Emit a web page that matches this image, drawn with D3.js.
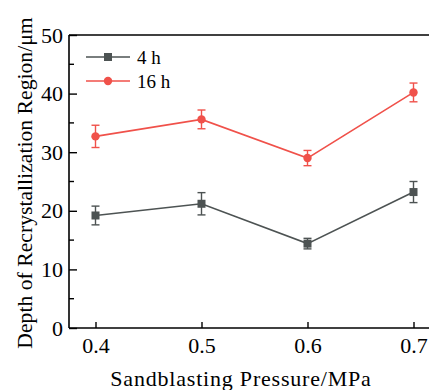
<!DOCTYPE html>
<html>
<head>
<meta charset="utf-8">
<script src="https://cdn.jsdelivr.net/npm/d3@7"></script>
<style>
  body { margin: 0; background: #fff; }
  svg, svg text { display: block; font-family: "Liberation Serif", "Times New Roman", serif !important; }
</style>
</head>
<body>
<div id="chart"></div>
<script>
// data
const pressures = [0.4, 0.5, 0.6, 0.7];
const depth4h = [19.2, 21.2, 14.4, 23.2];
const err4h = [1.6, 1.9, 0.9, 1.8];
const depth16h = [32.7, 35.6, 29.0, 40.2];
const err16h = [1.9, 1.6, 1.3, 1.6];
const xTicks = [0.4, 0.5, 0.6, 0.7];
const yTicks = [0, 10, 20, 30, 40, 50];

const series = [
  { name: "4 h", values: depth4h, errs: err4h, color: "#4d5353", shape: "square" },
  { name: "16 h", values: depth16h, errs: err16h, color: "#f0514a", shape: "circle" }
];

const width = 429, height = 390;

const svg = d3.select("#chart").append("svg")
  .attr("width", width)
  .attr("height", height);

// x axis runs past the right edge (picture is cropped there)
const x = d3.scaleLinear().domain([0.375, 0.725]).range([69, 440]);
const y = d3.scaleLinear().domain([0, 50]).range([328, 35]);

// frame: left, bottom, top
svg.append("line").attr("x1", x(0.375)).attr("x2", x(0.375)).attr("y1", y(0)).attr("y2", y(50))
  .attr("stroke", "#000").attr("stroke-width", 1.6);
svg.append("line").attr("x1", x(0.375)).attr("x2", width).attr("y1", y(0)).attr("y2", y(0))
  .attr("stroke", "#000").attr("stroke-width", 1.6);
svg.append("line").attr("x1", x(0.375)).attr("x2", width).attr("y1", y(50)).attr("y2", y(50))
  .attr("stroke", "#000").attr("stroke-width", 1.6);

// y ticks point inward
const yAxis = d3.axisLeft(y).tickValues(yTicks).tickSize(-8).tickPadding(14).tickFormat(d3.format("d"));
const gy = svg.append("g").attr("transform", "translate(" + x(0.375) + ",0)").call(yAxis)
  .attr("font-size", 22);
gy.select(".domain").remove();
gy.selectAll(".tick line").attr("stroke-width", 1.4);
gy.selectAll("text").attr("fill", "#000").attr("dx", 8);

// minor y ticks
svg.append("g").selectAll("line").data(d3.range(5, 50, 10)).enter().append("line")
  .attr("x1", x(0.375)).attr("x2", x(0.375) + 5)
  .attr("y1", d => y(d)).attr("y2", d => y(d))
  .attr("stroke", "#000").attr("stroke-width", 1.4);

const xAxis = d3.axisBottom(x).tickValues(xTicks).tickSize(-6).tickPadding(12).tickFormat(d3.format(".1f"));
const gx = svg.append("g").attr("transform", "translate(0," + y(0) + ")").call(xAxis)
  .attr("font-size", 22);
gx.select(".domain").remove();
gx.selectAll(".tick line").attr("stroke-width", 1.4);
gx.selectAll("text").attr("fill", "#000").attr("dy", "0.6em");

// axis titles
svg.append("text")
  .attr("x", 241).attr("y", 386)
  .attr("text-anchor", "middle")
  .attr("font-size", 22)
  .attr("letter-spacing", 0.8)
  .text("Sandblasting Pressure/MPa");

svg.append("text")
  .attr("transform", "translate(32,183) rotate(-90)")
  .attr("text-anchor", "middle")
  .attr("font-size", 21.7)
  .text("Depth of Recrystallization Region/\u03bcm");

// series
const line = d3.line().x(d => x(d[0])).y(d => y(d[1]));

series.forEach(s => {
  const pts = pressures.map((p, i) => [p, s.values[i], s.errs[i]]);
  const g = svg.append("g");
  g.append("path").datum(pts).attr("d", line)
    .attr("fill", "none").attr("stroke", s.color).attr("stroke-width", 1.6);

  // error bars
  const eb = g.selectAll(".eb").data(pts).enter().append("g");
  eb.append("line").attr("x1", d => x(d[0])).attr("x2", d => x(d[0]))
    .attr("y1", d => y(d[1] - d[2])).attr("y2", d => y(d[1] + d[2]))
    .attr("stroke", s.color).attr("stroke-width", 1.4);
  [-1, 1].forEach(k => {
    eb.append("line").attr("x1", d => x(d[0]) - 4).attr("x2", d => x(d[0]) + 4)
      .attr("y1", d => y(d[1] + k * d[2])).attr("y2", d => y(d[1] + k * d[2]))
      .attr("stroke", s.color).attr("stroke-width", 1.4);
  });

  // markers
  if (s.shape === "square") {
    g.selectAll(".m").data(pts).enter().append("rect")
      .attr("x", d => x(d[0]) - 4).attr("y", d => y(d[1]) - 4)
      .attr("width", 8).attr("height", 8).attr("fill", s.color);
  } else {
    g.selectAll(".m").data(pts).enter().append("circle")
      .attr("cx", d => x(d[0])).attr("cy", d => y(d[1])).attr("r", 4.2)
      .attr("fill", s.color);
  }
});

// legend
const legend = svg.append("g").attr("transform", "translate(86,57)");
const items = legend.selectAll("g").data(series).enter().append("g")
  .attr("transform", (d, i) => "translate(0," + i * 24 + ")");
items.append("line").attr("x1", 0).attr("x2", 44).attr("y1", 0).attr("y2", 0)
  .attr("stroke", d => d.color).attr("stroke-width", 1.6);
items.each(function (d) {
  const it = d3.select(this);
  if (d.shape === "square") {
    it.append("rect").attr("x", 18).attr("y", -4).attr("width", 8).attr("height", 8).attr("fill", d.color);
  } else {
    it.append("circle").attr("cx", 22).attr("cy", 0).attr("r", 4.2).attr("fill", d.color);
  }
});
items.append("text").attr("x", 51).attr("y", 7).attr("font-size", 19).text(d => d.name);
</script>
</body>
</html>
